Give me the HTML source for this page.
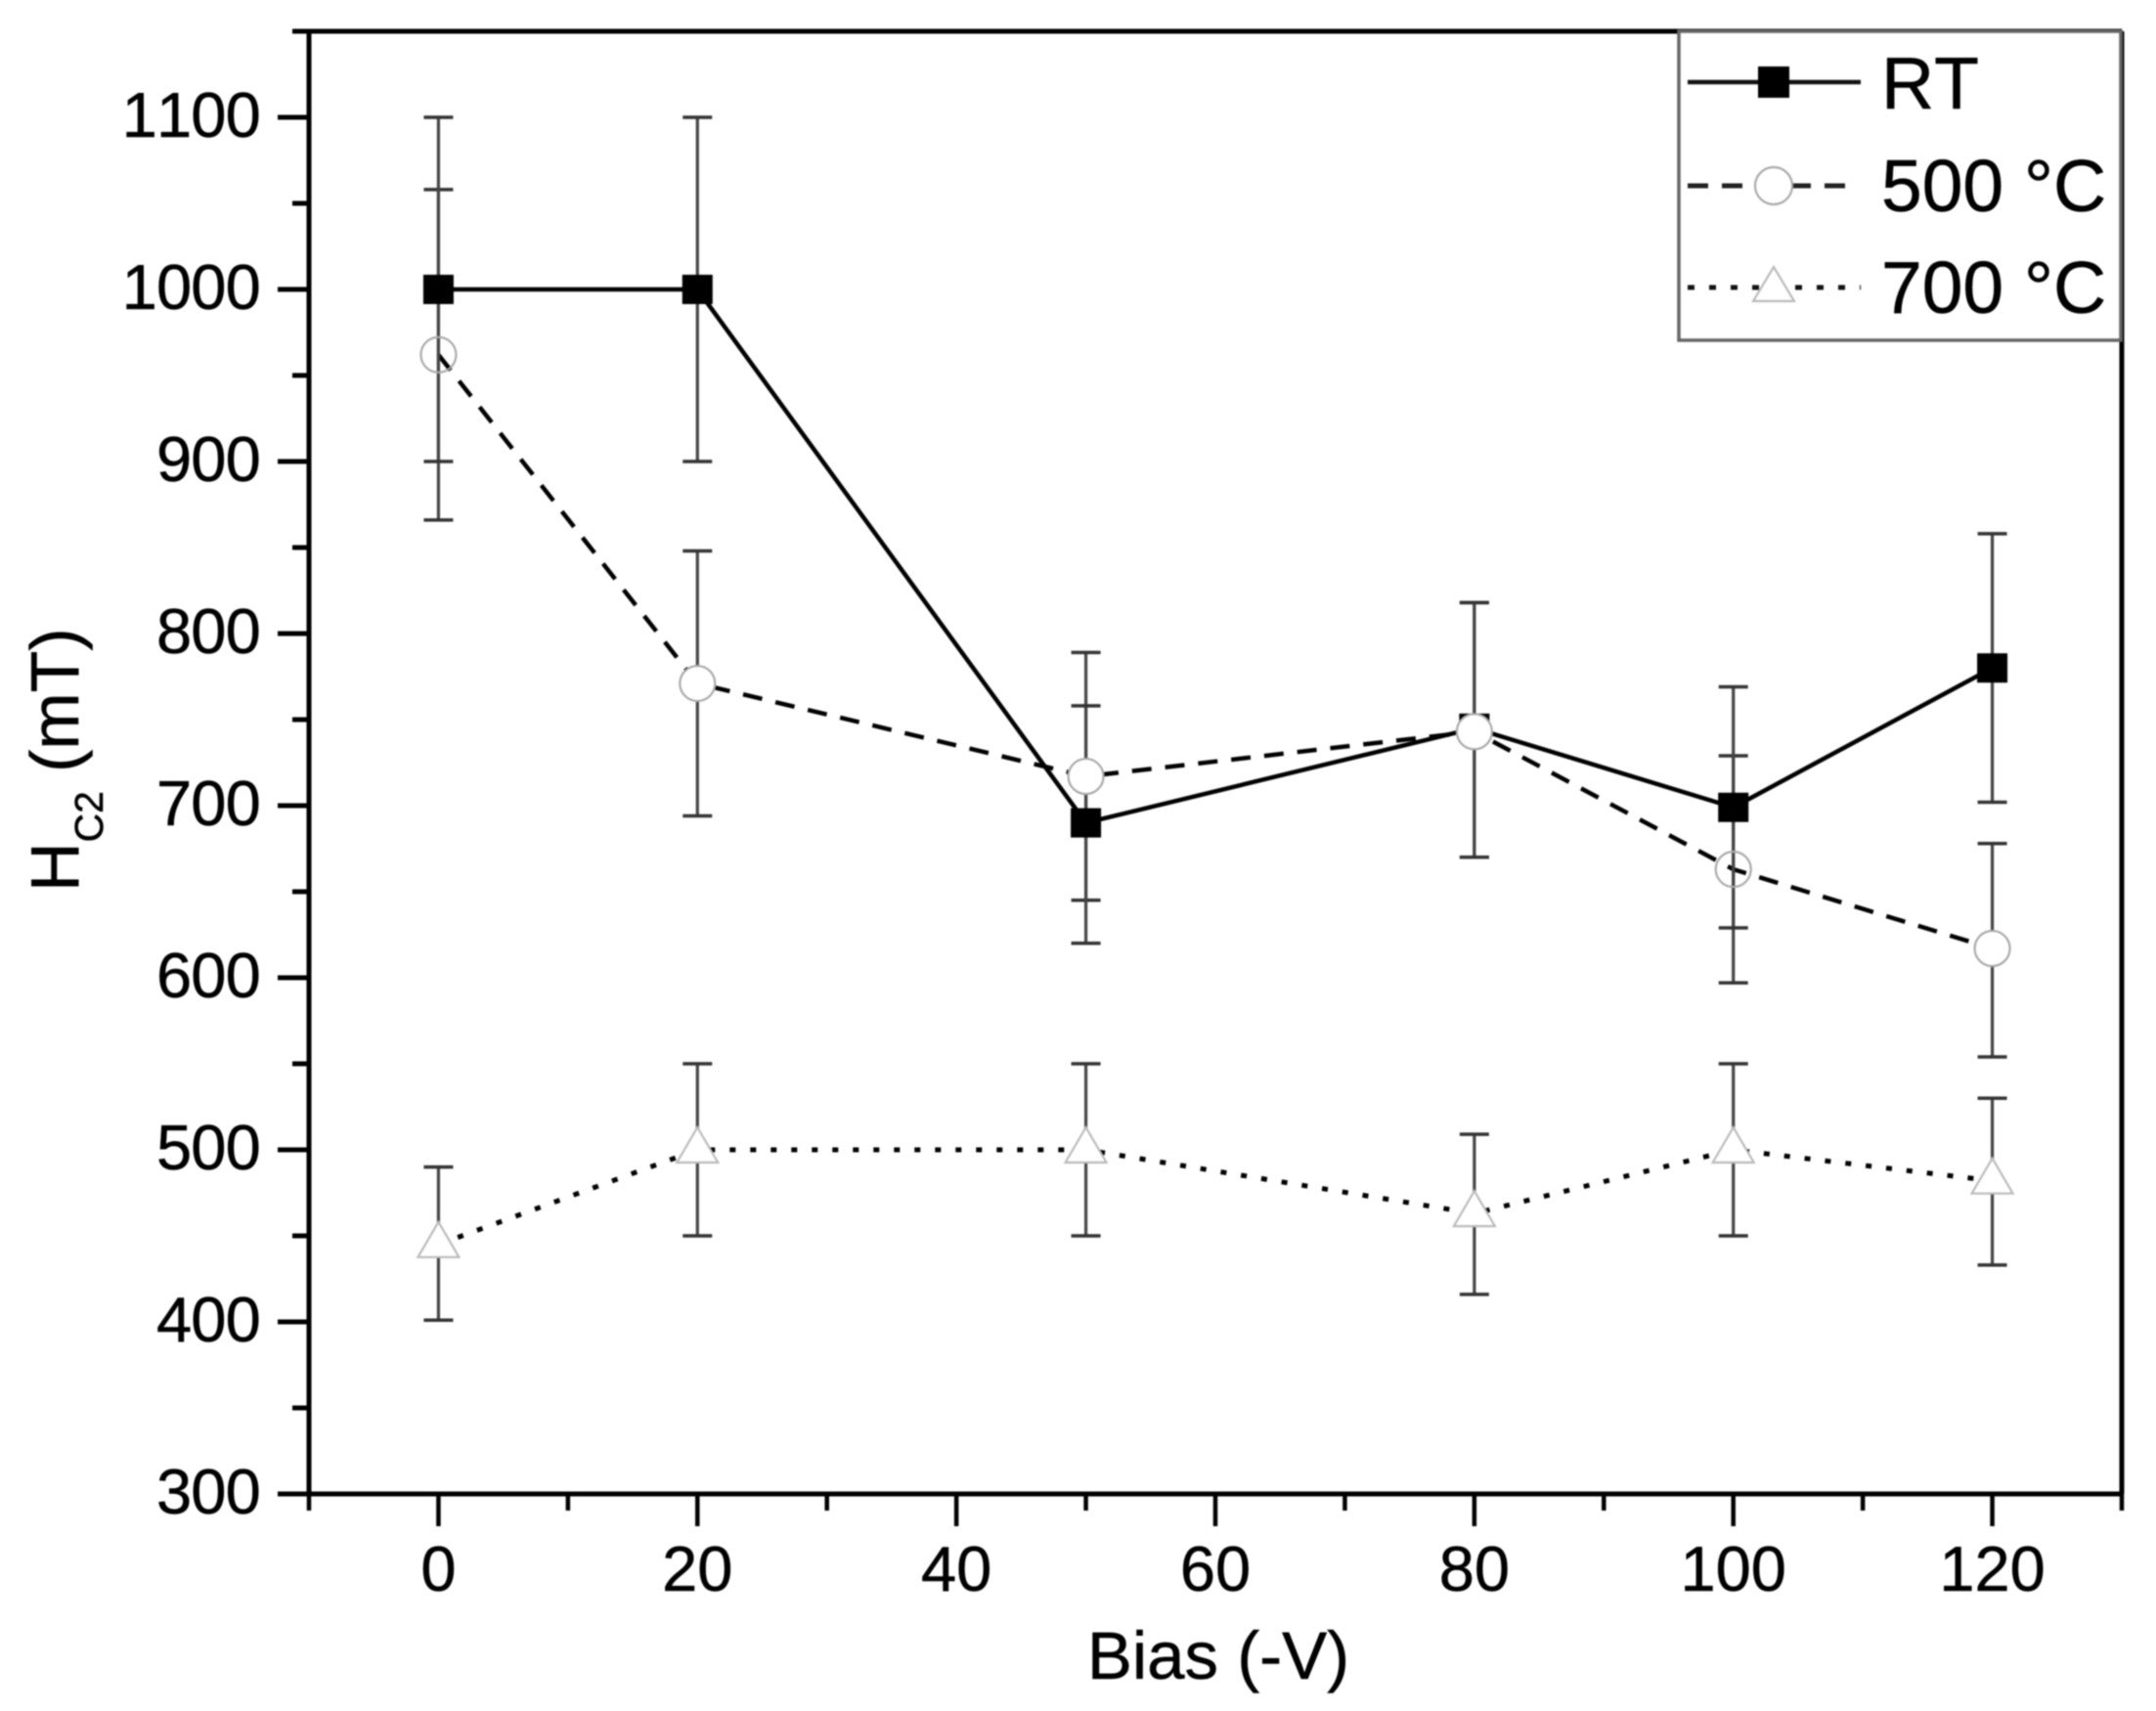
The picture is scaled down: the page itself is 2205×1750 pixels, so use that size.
<!DOCTYPE html>
<html lang="en">
<head>
<meta charset="utf-8">
<title>HC2 versus Bias</title>
<style>
  html, body { margin: 0; padding: 0; background: #fff; }
  body { width: 2205px; height: 1750px; overflow: hidden; }
  svg { display: block; filter: blur(0.9px); font-family: "Liberation Sans", sans-serif; font-kerning: none; }
  text { stroke: #000; stroke-width: 0.5px; }
</style>
</head>
<body>
<svg id="chart" xmlns="http://www.w3.org/2000/svg" width="2205" height="1750" viewBox="0 0 2205 1750">
  <rect x="0" y="0" width="2205" height="1750" fill="#fff"/>
  <g id="marks"></g>
  <g id="axes"></g>

  <text x="1246" y="1717" font-size="69" text-anchor="middle" fill="#000">Bias (-V)</text>
  <text transform="translate(80,912) rotate(-90)" font-size="70" fill="#000">H<tspan font-size="41" dy="25">C2</tspan><tspan dy="-25" dx="19">(mT)</tspan></text>

  <g>
    <rect x="1717" y="32" width="452" height="316" fill="#fff" stroke="#666" stroke-width="3.5"/>
    <g>
      <line x1="1726" y1="84" x2="1903" y2="84" stroke="#111" stroke-width="4.5"/>
      <rect x="1798" y="68" width="32" height="32" fill="#000"/>
      <text x="1924" y="111" font-size="75" fill="#000">RT</text>
    </g>
    <g>
      <line x1="1726" y1="190" x2="1893" y2="190" stroke="#222" stroke-width="5" stroke-dasharray="21 14"/>
      <circle cx="1814" cy="190" r="19" fill="#fff" stroke="#aaa" stroke-width="2.2"/>
      <text x="1924" y="216" font-size="75" fill="#000">500 °C</text>
    </g>
    <g>
      <line x1="1726" y1="294" x2="1903" y2="294" stroke="#111" stroke-width="5" stroke-dasharray="7 15"/>
      <polygon points="1814,273 1835,308 1793,308" fill="#fff" stroke="#bbb" stroke-width="2.2"/>
      <text x="1924" y="320" font-size="75" fill="#000">700 °C</text>
    </g>
  </g>
</svg>

<script>
/* ---------- chart data ---------- */
const biasValues = [0, 20, 50, 80, 100, 120];

const rtValues = [1000, 1000, 690, 745, 699, 780];
const rtUpper  = [1100, 1100, 758, 818, 769, 858];
const rtLower  = [900, 900, 620, 670, 629, 702];

const c500Values = [962, 771, 717, 743, 663, 617];
const c500Upper  = [1058, 848, 789, 818, 729, 678];
const c500Lower  = [866, 694, 645, 670, 597, 554];
const c500MarkerOpen = [true, false, false, false, true, false];

const c700Values = [445, 500, 500, 463, 500, 482];
const c700Upper  = [490, 550, 550, 509, 550, 530];
const c700Lower  = [401, 450, 450, 416, 450, 433];

const xMajorTicks = [0, 20, 40, 60, 80, 100, 120];
const xMinorTicks = [-10, 10, 30, 50, 70, 90, 110, 130];
const yMajorTicks = [300, 400, 500, 600, 700, 800, 900, 1000, 1100];
const yMinorTicks = [350, 450, 550, 650, 750, 850, 950, 1050, 1150];

/* ---------- axis functions ---------- */
const SVG_NS = 'http://www.w3.org/2000/svg';
const plotLeft = 316, plotRight = 2170, plotTop = 32, plotBottom = 1528;
const xDomainMin = -10, xDomainMax = 130, yDomainMin = 300, yDomainMax = 1150;

function xScale(v) {
  return plotLeft + (v - xDomainMin) / (xDomainMax - xDomainMin) * (plotRight - plotLeft);
}
function yScale(v) {
  return plotBottom - (v - yDomainMin) / (yDomainMax - yDomainMin) * (plotBottom - plotTop);
}
function make(tag, parent, attrs) {
  const node = document.createElementNS(SVG_NS, tag);
  for (const k in attrs) node.setAttribute(k, attrs[k]);
  parent.appendChild(node);
  return node;
}

const axes = document.getElementById('axes');
const marks = document.getElementById('marks');
const axisStroke = { stroke: '#000', 'stroke-width': 5 };

/* ---------- frame ---------- */
const frameLeft = make('line', axes, { x1: plotLeft, y1: plotTop, x2: plotLeft, y2: plotBottom, ...axisStroke });


const frameBottom = make('line', axes, { x1: plotLeft, y1: plotBottom, x2: plotRight, y2: plotBottom, ...axisStroke });


const frameTop = make('line', axes, { x1: plotLeft, y1: plotTop, x2: plotRight, y2: plotTop, ...axisStroke });


const frameRight = make('line', axes, { x1: plotRight, y1: plotTop, x2: plotRight, y2: plotBottom, ...axisStroke });



/* ---------- ticks ---------- */
xMajorTicks.forEach(function (t) {
  const tick = make('line', axes, { x1: xScale(t), y1: plotBottom, x2: xScale(t), y2: plotBottom + 33, ...axisStroke, 'stroke-width': 4.5 });
  
  
  const label = make('text', axes, { x: xScale(t), y: 1627, 'font-size': 65, 'text-anchor': 'middle', fill: '#000' });
  label.textContent = String(t);
  
  
});
xMinorTicks.forEach(function (t) {
  const tick = make('line', axes, { x1: xScale(t), y1: plotBottom, x2: xScale(t), y2: plotBottom + 17, ...axisStroke, 'stroke-width': 4.5 });
  
  
});
yMajorTicks.forEach(function (t) {
  const tick = make('line', axes, { x1: plotLeft - 32, y1: yScale(t), x2: plotLeft, y2: yScale(t), ...axisStroke });
  
  
  const label = make('text', axes, { x: 266, y: yScale(t) + 20, 'font-size': 65, 'text-anchor': 'end', 'letter-spacing': -0.8, fill: '#000' });
  label.textContent = String(t);
  
  
});
yMinorTicks.forEach(function (t) {
  const tick = make('line', axes, { x1: plotLeft - 17, y1: yScale(t), x2: plotLeft, y2: yScale(t), ...axisStroke });
  
  
});

/* ---------- series ---------- */
function drawErrorBars(key, upper, lower) {
  biasValues.forEach(function (b, i) {
    const x = xScale(b), yU = yScale(upper[i]), yL = yScale(lower[i]);
    const stem = make('line', marks, { x1: x, y1: yU, x2: x, y2: yL, stroke: '#444', 'stroke-width': 3.2 });
    
    
    const capU = make('line', marks, { x1: x - 15, y1: yU, x2: x + 15, y2: yU, stroke: '#333', 'stroke-width': 3.5 });
    
    
    const capL = make('line', marks, { x1: x - 15, y1: yL, x2: x + 15, y2: yL, stroke: '#333', 'stroke-width': 3.5 });
    
    
  });
}
function drawLine(key, values, dash, width) {
  const pts = biasValues.map(function (b, i) { return xScale(b) + ',' + yScale(values[i]); }).join(' ');
  const poly = make('polyline', marks, { points: pts, fill: 'none', stroke: '#000', 'stroke-width': width });
  if (dash) poly.setAttribute('stroke-dasharray', dash);
  
  
}

/* 700 °C */
drawErrorBars('series-700c', c700Upper, c700Lower);
drawLine('series-700c', c700Values, '6 15', 5);
c700Values.forEach(function (v, i) {
  const x = xScale(biasValues[i]), y = yScale(v);
  const pts = x + ',' + (y - 23) + ' ' + (x + 21) + ',' + (y + 13) + ' ' + (x - 21) + ',' + (y + 13);
  const tri = make('polygon', marks, { points: pts, fill: '#fff', stroke: '#bbb', 'stroke-width': 2.2 });
  
  
});

/* 500 °C lines and bars */
drawErrorBars('series-500c', c500Upper, c500Lower);
drawLine('series-500c', c500Values, '20 14', 4.5);

/* RT lines and bars */
drawErrorBars('series-rt', rtUpper, rtLower);
drawLine('series-rt', rtValues, null, 4.5);
rtValues.forEach(function (v, i) {
  const x = xScale(biasValues[i]), y = yScale(v);
  const sq = make('rect', marks, { x: x - 15.5, y: y - 15, width: 31, height: 30, fill: '#000' });
  
  
});

/* 500 °C markers */
c500Values.forEach(function (v, i) {
  const c = make('circle', marks, {
    cx: xScale(biasValues[i]), cy: yScale(v), r: 18,
    fill: c500MarkerOpen[i] ? 'none' : '#fff', stroke: '#aaa', 'stroke-width': 2.2
  });
  
  
});
</script>
</body>
</html>
